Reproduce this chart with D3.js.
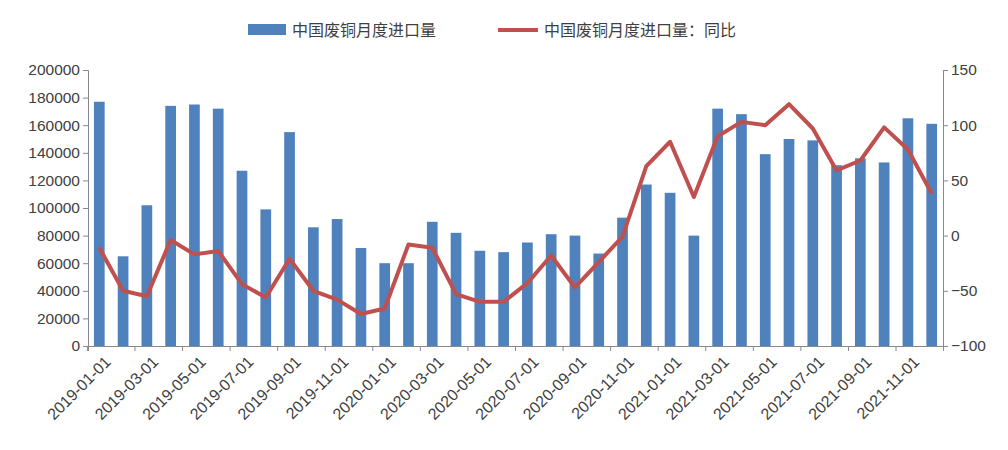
<!DOCTYPE html>
<html><head><meta charset="utf-8">
<script src="https://cdn.jsdelivr.net/npm/d3@7"></script>
<style>body{margin:0;background:#fff}svg{font-family:"Noto Sans CJK SC","DejaVu Sans",sans-serif}</style>
</head><body><svg id="c" width="1008" height="450"></svg>
<script>
const months=[];for(let y=2019;y<=2021;y++)for(let m=1;m<=12;m++)months.push(`${y}-${String(m).padStart(2,"0")}-01`);
const volume=[177000,65000,102000,174000,175000,172000,127000,99000,155000,86000,92000,71000,60000,60000,90000,82000,69000,68000,75000,81000,80000,67000,93000,117000,111000,80000,172000,168000,139000,150000,149000,131000,136000,133000,165000,161000];
const yoy=[-11,-50,-55,-4,-17,-14,-44,-56,-21,-50,-58,-71,-66,-8,-11,-53,-60,-60,-43,-18,-47,-24,-1,63,85,35,90,103,100,119,97,59,68,98,78,38];
const leftTicks=d3.range(0,200001,20000), rightTicks=d3.range(-100,151,50);
const svg=d3.select("#c");
const L=88,R=943,T=70,B=346;
const x=d3.scaleBand().domain(months).range([L,R]).paddingInner(0.55).paddingOuter(0.25);
const yl=d3.scaleLinear().domain([0,200000]).range([B,T]);
const yr=d3.scaleLinear().domain([-100,150]).range([B,T]);
svg.append("g").selectAll("rect").data(volume).join("rect")
 .attr("x",(d,i)=>x(months[i])).attr("width",x.bandwidth()).attr("y",d=>yl(d)).attr("height",d=>B-yl(d)).attr("fill","#4f81bd");
svg.append("path").datum(yoy).attr("fill","none").attr("stroke","#c0504d").attr("stroke-width",4).attr("stroke-linejoin","round")
 .attr("d",d3.line().x((d,i)=>x(months[i])+x.bandwidth()/2).y(d=>yr(d)));
const gl=svg.append("g").attr("transform",`translate(${L},0)`).call(d3.axisLeft(yl).tickValues(leftTicks).tickSize(5).tickFormat(d3.format("d")));
const gr=svg.append("g").attr("transform",`translate(${R},0)`).call(d3.axisRight(yr).tickValues(rightTicks).tickSize(5));
const gx=svg.append("g").attr("transform",`translate(0,${B})`).call(d3.axisBottom(x).tickValues(months.filter((d,i)=>i%2==0)).tickSize(5));
gx.selectAll(".tick line").attr("transform",`translate(${-x.step()/2},0)`);
[gl,gr,gx].forEach(g=>{g.selectAll("path,line").attr("stroke","#888");g.selectAll("text").attr("font-size",15.5).attr("fill","#404040").attr("font-family","Liberation Sans, Arial, sans-serif");});
gx.selectAll("text").attr("transform","rotate(-45)").attr("text-anchor","end").attr("dx","-0.2em").attr("dy","0.8em").attr("font-size",16);
const lg=svg.append("g");
lg.append("rect").attr("x",248).attr("y",24).attr("width",38).attr("height",11).attr("fill","#4f81bd");
lg.append("text").attr("x",292).attr("y",36).attr("font-size",16).attr("fill","#404040").text("中国废铜月度进口量");
lg.append("line").attr("x1",498).attr("x2",538).attr("y1",30).attr("y2",30).attr("stroke","#c0504d").attr("stroke-width",4);
lg.append("text").attr("x",544).attr("y",36).attr("font-size",16).attr("fill","#404040").text("中国废铜月度进口量：同比");
</script></body></html>
